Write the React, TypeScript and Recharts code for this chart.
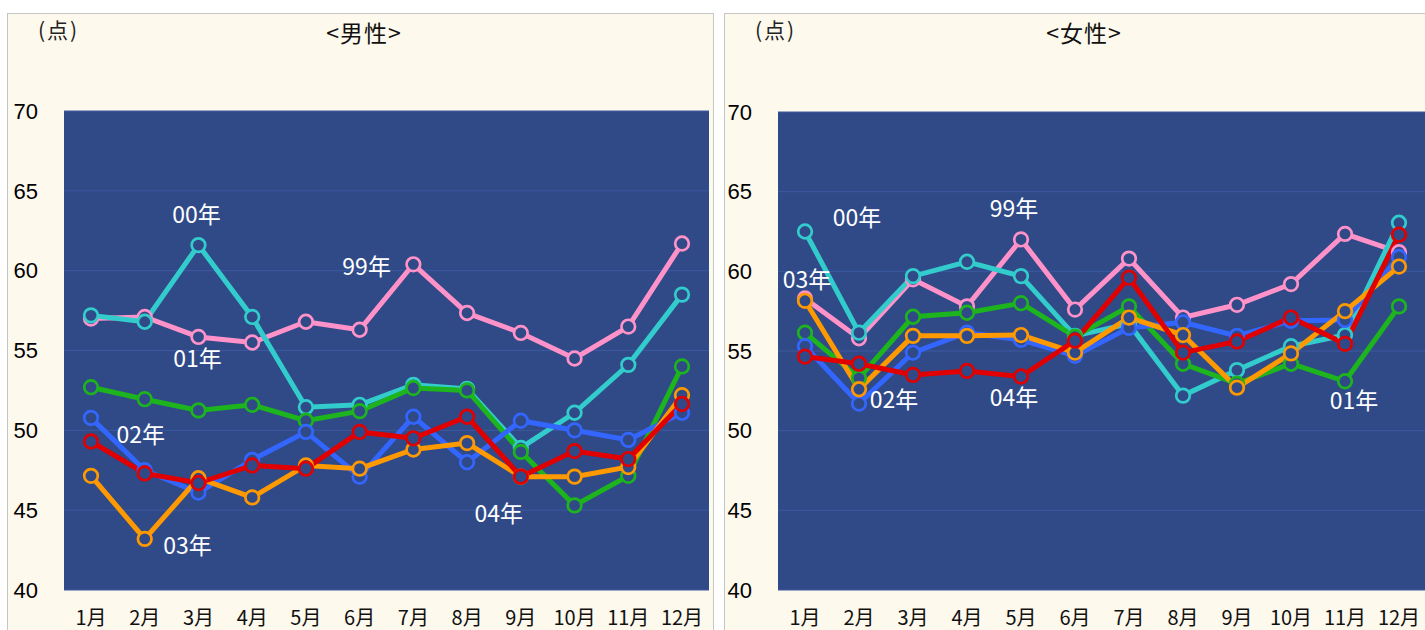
import { LineChart, Line, XAxis, YAxis, CartesianGrid, ReferenceDot } from "recharts";

const months = ["1月", "2月", "3月", "4月", "5月", "6月", "7月", "8月", "9月", "10月", "11月", "12月"];
const yTicks = [40, 45, 50, 55, 60, 65, 70];

// 男性
const male99 = [57.0, 57.1, 55.85, 55.5, 56.8, 56.3, 60.4, 57.35, 56.1, 54.5, 56.5, 61.7];
const male00 = [57.2, 56.8, 61.6, 57.1, 51.45, 51.6, 52.85, 52.6, 48.9, 51.1, 54.1, 58.5];
const male01 = [52.7, 51.95, 51.25, 51.6, 50.6, 51.2, 52.65, 52.5, 48.65, 45.3, 47.15, 54.0];
const male02 = [50.78, 47.5, 46.1, 48.15, 49.9, 47.1, 50.85, 48.0, 50.6, 50.0, 49.4, 51.1];
const male03 = [47.15, 43.2, 47.0, 45.8, 47.8, 47.6, 48.8, 49.2, 47.1, 47.1, 47.7, 52.2];
const male04 = [49.3, 47.3, 46.7, 47.8, 47.6, 49.9, 49.5, 50.85, 47.1, 48.7, 48.2, 51.65];

// 女性
const female99 = [58.3, 55.8, 59.5, 57.8, 62.0, 57.6, 60.8, 57.1, 57.9, 59.2, 62.35, 61.2];
const female00 = [62.5, 56.15, 59.7, 60.6, 59.7, 55.95, 56.7, 52.2, 53.8, 55.3, 56.0, 63.05];
const female01 = [56.15, 53.3, 57.15, 57.4, 58.0, 55.9, 57.8, 54.2, 52.95, 54.2, 53.1, 57.8];
const female02 = [55.3, 51.7, 54.9, 56.15, 55.7, 54.7, 56.45, 56.8, 55.95, 56.9, 56.95, 60.9];
const female03 = [58.15, 52.6, 55.95, 55.95, 56.0, 54.9, 57.1, 56.0, 52.7, 54.85, 57.5, 60.3];
const female04 = [54.65, 54.2, 53.5, 53.75, 53.4, 55.65, 59.6, 54.9, 55.6, 57.1, 55.45, 62.3];

// 年ラベル (month, value, dx)
const maleNotes = [
  { text: "00年", month: "3月", value: 63.6, dx: -2 },
  { text: "99年", month: "6月", value: 60.35, dx: 7 },
  { text: "01年", month: "3月", value: 54.6, dx: -1 },
  { text: "02年", month: "2月", value: 49.84, dx: -4 },
  { text: "03年", month: "3月", value: 42.9, dx: -11 },
  { text: "04年", month: "9月", value: 44.9, dx: -22 },
];
const femaleNotes = [
  { text: "00年", month: "2月", value: 63.5, dx: -2 },
  { text: "99年", month: "5月", value: 64.05, dx: -7 },
  { text: "03年", month: "1月", value: 59.6, dx: 2 },
  { text: "02年", month: "2月", value: 52.07, dx: 35 },
  { text: "04年", month: "5月", value: 52.2, dx: -7 },
  { text: "01年", month: "11月", value: 52.0, dx: 9 },
];

const NAVY = "#304a88";
const CREAM = "#fef9ed";
const JP = "'Noto Sans CJK JP', 'Liberation Sans', sans-serif";
const CHART_H = 616;

const series = [
  { key: "y99", color: "#ff92c8" },
  { key: "y00", color: "#33cccc" },
  { key: "y01", color: "#1db41d" },
  { key: "y02", color: "#3366ff" },
  { key: "y03", color: "#ff9900" },
  { key: "y04", color: "#e00000" },
];

const buildData = (cols: number[][]) =>
  months.map((m, i) => ({
    month: m,
    y99: cols[0][i],
    y00: cols[1][i],
    y01: cols[2][i],
    y02: cols[3][i],
    y03: cols[4][i],
    y04: cols[5][i],
  }));

const maleData = buildData([male99, male00, male01, male02, male03, male04]);
const femaleData = buildData([female99, female00, female01, female02, female03, female04]);

const noteLabel = (text: string, dx: number) => (props: any) => {
  const vb = props.viewBox || {};
  return (
    <text
      x={vb.x + dx}
      y={vb.y}
      textAnchor="middle"
      dominantBaseline="central"
      fill="#ffffff"
      fontSize={23}
      fontFamily={JP}
    >
      {text}
    </text>
  );
};

const MonthTick = (props: any) => {
  const { x, y, payload } = props;
  return (
    <text
      x={x}
      y={y + 18}
      textAnchor="middle"
      dominantBaseline="central"
      fill="#111"
      fontSize={20}
      fontFamily={JP}
    >
      {payload.value}
    </text>
  );
};

type PanelProps = {
  left: number;
  title: string;
  titleX: number;
  data: any[];
  notes: { text: string; month: string; value: number; dx: number }[];
  axisWidth: number;
  top: number;
  plotH: number;
  pad: number;
};

const Panel = ({ left, title, titleX, data, notes, axisWidth, top, plotH, pad }: PanelProps) => (
  <div
    style={{
      position: "absolute",
      left,
      top: 13,
      width: 707,
      height: CHART_H + 2,
      boxSizing: "border-box",
      border: "1px solid #c6c6c6",
      background: CREAM,
    }}
  >
    <div
      style={{
        position: "absolute",
        left: 30,
        top: 0,
        fontSize: 21,
        letterSpacing: 2,
        fontFamily: JP,
        color: "#222",
        whiteSpace: "nowrap",
      }}
    >
      (点)
    </div>
    <div
      style={{
        position: "absolute",
        left: titleX - left - 1 - 70,
        width: 140,
        top: 1,
        textAlign: "center",
        fontSize: 23,
        letterSpacing: 1,
        fontFamily: JP,
        color: "#111",
        whiteSpace: "nowrap",
      }}
    >
      {title}
    </div>
    <LineChart
      width={705}
      height={CHART_H}
      data={data}
      margin={{ top, right: 4, bottom: 0, left: 0 }}
      style={{ position: "absolute", left: 0, top: 0, overflow: "visible" }}
    >
      <CartesianGrid vertical={false} fill={NAVY} stroke="#3c58a0" strokeWidth={1} />
      <XAxis
        dataKey="month"
        axisLine={false}
        tickLine={false}
        height={CHART_H - top - plotH}
        interval={0}
        padding={{ left: pad, right: pad }}
        tick={<MonthTick />}
      />
      <YAxis
        type="number"
        domain={[40, 70]}
        ticks={yTicks}
        width={axisWidth}
        axisLine={false}
        tickLine={false}
        tickSize={6}
        tickMargin={20}
        interval={0}
        tick={{ fill: "#000", fontSize: 22, fontFamily: "'Liberation Sans', Arial, sans-serif" }}
      />
      {notes.map((n, i) => (
        <ReferenceDot
          key={i}
          x={n.month}
          y={n.value}
          r={0}
          fill="none"
          stroke="none"
          label={noteLabel(n.text, n.dx)}
        />
      ))}
      {series.map((s) => (
        <Line
          key={s.key}
          dataKey={s.key}
          stroke={s.color}
          strokeWidth={5}
          dot={{ r: 6.8, fill: NAVY, stroke: s.color, strokeWidth: 2.7 }}
          activeDot={false}
          isAnimationActive={false}
        />
      ))}
    </LineChart>
  </div>
);

export default function App() {
  return (
    <div
      style={{
        position: "fixed",
        left: 0,
        top: 0,
        width: 1425,
        height: 630,
        overflow: "hidden",
        background: "#ffffff",
      }}
    >
      <Panel left={7} title="<男性>" titleX={364} data={maleData} notes={maleNotes} axisWidth={56} top={97} plotH={479} pad={27} />
      <Panel left={724} title="<女性>" titleX={1084} data={femaleData} notes={femaleNotes} axisWidth={53} top={98} plotH={478} pad={27} />
    </div>
  );
}
